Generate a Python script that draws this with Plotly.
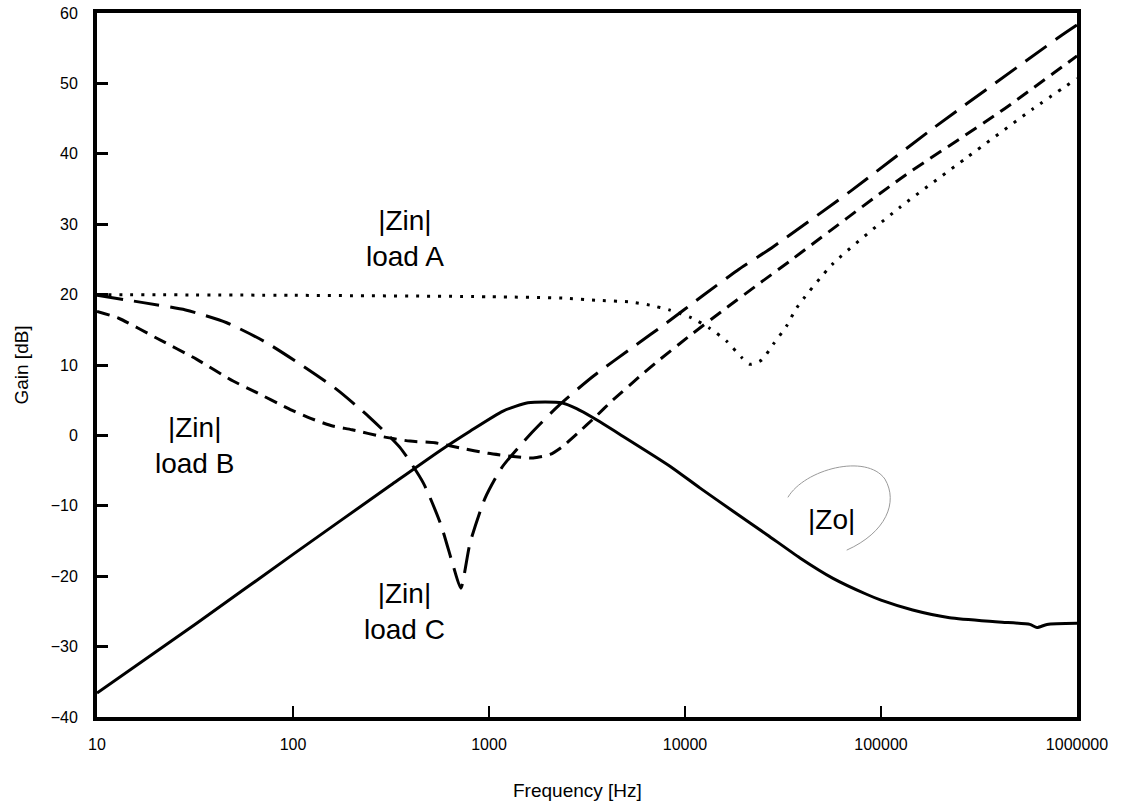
import math
import plotly.graph_objects as go

# ---------------- data ----------------
zo_freq = [10, 32, 100, 316, 560, 800, 1180, 1580, 2350, 2800, 3400, 4660, 8380,
           11900, 17600, 26200, 38600, 56900, 84900, 100000, 145000, 224000,
           398000, 575000, 625000, 703000, 1000000]
zo_db = [-36.6, -26.75, -16.9, -7.05, -2.2, 0.6, 3.46, 4.64, 4.64, 3.8, 2.5, 0.14,
         -4.37, -7.45, -10.77, -14.1, -17.4, -20.3, -22.6, -23.4, -24.8, -25.9,
         -26.5, -26.85, -27.3, -26.85, -26.7]

zinA_freq = [10, 100, 1000, 2390, 3540, 5240, 6620, 8380, 10800, 13400, 16300,
             19500, 21500, 24600, 28200, 33000, 37200, 56900, 125000, 275000,
             597000, 1000000]
zinA_db = [20.0, 19.9, 19.7, 19.5, 19.2, 18.96, 18.5, 17.8, 16.7, 15.2, 13.4,
           11.04, 10.1, 10.7, 12.95, 15.55, 18.15, 24.4, 32.4, 39.5, 46.4, 50.7]

zinB_freq = [10, 12.9, 20.2, 32.3, 49.5, 61.5, 98.4, 123, 156, 200, 289, 395, 530,
             711, 991, 1330, 1680, 2050, 2350, 2850, 3480, 4230, 5890, 7160, 10400,
             15700, 23200, 34400, 126000, 407000, 1000000]
zinB_db = [17.6, 16.64, 13.8, 10.8, 7.72, 6.44, 3.6, 2.42, 1.4, 0.8, -0.2, -0.81,
           -1.05, -1.77, -2.55, -3.0, -3.2, -2.7, -1.67, 0.37, 2.6, 4.88, 8.4, 10.4,
           14.0, 17.8, 21.3, 24.8, 36.5, 46.0, 53.9]

zinC_freq = [10, 17.2, 28.3, 45.9, 71.9, 109, 167, 245, 351, 462, 568, 658, 718,
             800, 955, 1160, 1620, 2300, 3400, 5460, 8070, 12400, 18400, 28200,
             70800, 184000, 832000, 1000000]
zinC_db = [19.9, 18.86, 17.82, 16.0, 13.3, 10.1, 6.54, 2.6, -1.7, -6.74, -12.66,
           -18.6, -21.7, -15.3, -8.9, -4.6, 0.14, 4.4, 8.4, 12.6, 16.0, 19.9,
           23.4, 26.8, 34.8, 43.6, 56.8, 58.3]

x_tick_vals = [10, 100, 1000, 10000, 100000, 1000000]
x_tick_text = ["10", "100", "1000", "10000", "100000", "1000000"]
y_tick_vals = [-40, -30, -20, -10, 0, 10, 20, 30, 40, 50, 60]

FONT = "Liberation Sans, Arial, Helvetica, sans-serif"

fig = go.Figure()


def add(freq, db, dash, name):
    fig.add_trace(go.Scatter(
        x=freq, y=db, mode="lines", name=name,
        line=dict(color="black", width=3, dash=dash, shape="spline", smoothing=0.6),
        showlegend=False, hoverinfo="x+y"))


add(zinA_freq, zinA_db, "3px,8px", "|Zin| load A")
add(zinB_freq, zinB_db, "13px,8px", "|Zin| load B")
add(zinC_freq, zinC_db, "26px,11px", "|Zin| load C")
add(zo_freq, zo_db, "solid", "|Zo|")

ann_font = dict(family=FONT, size=28, color="black")
for f, y, txt in [(372, 28.0, "|Zin|<br>load A"),
                  (31.6, -1.5, "|Zin|<br>load B"),
                  (372, -25.0, "|Zin|<br>load C"),
                  (56200, -12.0, "|Zo|")]:
    fig.add_annotation(x=math.log10(f), y=y, text=txt, showarrow=False,
                       font=ann_font, xanchor="center", yanchor="middle")

# axis titles
fig.add_annotation(xref="paper", yref="paper", x=0.490, y=-0.104, text="Frequency [Hz]",
                   showarrow=False, xanchor="center", yanchor="middle",
                   font=dict(family=FONT, size=19, color="black"))
fig.add_annotation(xref="paper", yref="paper", x=-0.078, y=0.500, text="Gain [dB]",
                   showarrow=False, xanchor="center", yanchor="middle", textangle=-90,
                   font=dict(family=FONT, size=19, color="black"))

# faint hand-drawn loop around |Zo| (scan artifact)
fig.add_shape(type="path", xref="paper", yref="paper",
              path="M 0.705 0.312 C 0.722 0.352, 0.785 0.375, 0.804 0.338 "
                   "C 0.818 0.305, 0.805 0.262, 0.765 0.237",
              line=dict(color="#9a9a9a", width=1))

fig.update_xaxes(type="log", range=[1, 6], tickvals=x_tick_vals, ticktext=x_tick_text,
                 ticks="inside", ticklen=11, tickwidth=2, tickcolor="black",
                 showline=True, linewidth=4, linecolor="black", mirror=True,
                 showgrid=False, zeroline=False, ticklabelstandoff=10,
                 automargin=False,
                 tickfont=dict(family=FONT, size=16, color="black"))
fig.update_yaxes(range=[-40, 60], tickvals=y_tick_vals,
                 ticks="inside", ticklen=11, tickwidth=3, tickcolor="black",
                 showline=True, linewidth=4, linecolor="black", mirror=True,
                 showgrid=False, zeroline=False, ticklabelstandoff=12,
                 automargin=False,
                 tickfont=dict(family=FONT, size=16, color="black"))

fig.update_layout(width=1121, height=805, margin=dict(l=97, r=44, t=13, b=88),
                  paper_bgcolor="white", plot_bgcolor="white",
                  font=dict(family=FONT, color="black"))

fig.write_html("out.html")
